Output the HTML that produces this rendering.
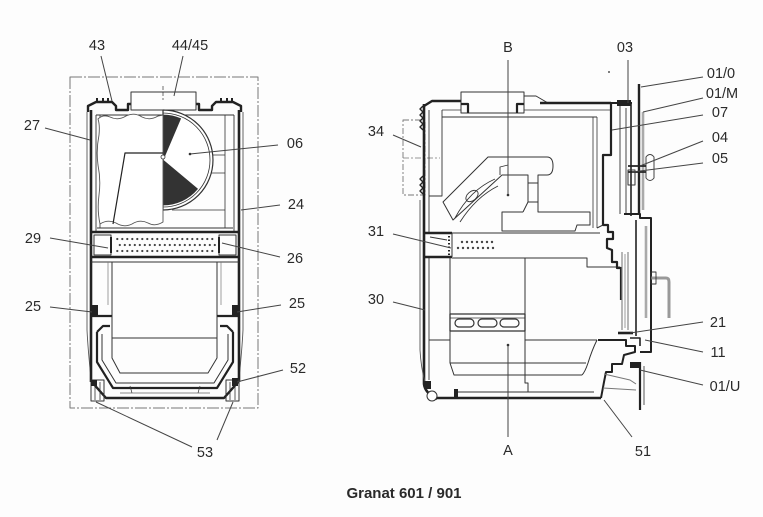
<!DOCTYPE html>
<html><head><meta charset="utf-8"><style>
html,body{margin:0;padding:0;background:#fdfdfd;}
svg{display:block;}
text{font-family:"Liberation Sans",Arial,sans-serif;font-size:14.5px;fill:#2a2a2a;}
.t{font-weight:bold;font-size:15px;fill:#2a2a2a;}
</style></head><body>
<svg width="763" height="517" viewBox="0 0 763 517" xmlns="http://www.w3.org/2000/svg">
<defs>
<pattern id="dl" x="116" y="237" width="5" height="12" patternUnits="userSpaceOnUse">
<circle cx="1.3" cy="2" r="1.1" fill="#444"/><circle cx="3.8" cy="8" r="1.1" fill="#444"/>
</pattern>
</defs>
<rect width="763" height="517" fill="#fdfdfd"/>

<!-- ================= LEFT VIEW ================= -->
<g fill="none" stroke="#333" stroke-linejoin="round">
<rect x="70" y="77" width="188" height="331" stroke="#777" stroke-width="1" stroke-dasharray="12,2,2,2"/>
<path d="M87,112 L87,330 Q88,350 91,378" stroke-width="0.9" stroke="#555"/>
<path d="M243,112 L243,330 Q242,350 239,378" stroke-width="0.9" stroke="#555"/>
<path d="M91,110 L91,382" stroke-width="2.6" stroke="#222"/>
<path d="M239,110 L239,382" stroke-width="2.6" stroke="#222"/>
<path d="M96,115 L96,232" stroke-width="0.9"/>
<path d="M234,115 L234,232" stroke-width="0.9"/>
<path d="M88,112 L88,106 L96,102 L112,102 L116,106 L116,110 L128,110 L128,104 L131,104" stroke-width="2.4" stroke="#222"/>
<path d="M196,104 L199,104 L199,110 L212,110 L212,106 L216,102 L233,102 L241,106 L241,112" stroke-width="2.4" stroke="#222"/>
<path d="M97,98 l0,5 M103,98 l0,5 M108,98 l0,5 M221,98 l0,5 M227,98 l0,5 M232,98 l0,5" stroke-width="2" stroke="#222"/>
<rect x="131" y="92" width="65" height="18" stroke-width="1"/>
<path d="M163,86 L163,100" stroke-width="0.7" stroke-dasharray="4,2"/>
<path d="M96,115 L234,115" stroke-width="1"/>
<path d="M100,115 L100,228 M225,115 L225,228" stroke-width="0.8"/>
<path d="M213,155 L225,155 M204,173 L225,173 M172,210 L225,210" stroke-width="0.8"/>
<path d="M97,228 L233,228" stroke-width="1"/>
<path d="M163,110 A50,50 0 0 1 163,210 Z" fill="#fff" stroke-width="1.2"/>
<path d="M163,113 A47,47 0 0 1 163,207" stroke-width="0.8"/>
<path d="M163,160 L163,115 A45,45 0 0 1 180.6,118.6 Z" fill="#333" stroke="#333" stroke-width="0.8"/>
<path d="M163,160 L197.5,188.9 A45,45 0 0 1 163,205 Z" fill="#333" stroke="#333" stroke-width="0.8"/>
<path d="M98,119 Q103,114 110,117 Q118,121 126,116 Q134,112 142,117 Q150,121 158,116 L163,115 L163,222 Q155,227 148,223 Q140,219 132,224 Q124,228 116,223 Q108,219 100,224 Q97,210 99,195 Q101,180 98,165 Q96,150 99,135 Q100,125 98,119 Z" fill="#fff" stroke="#555" stroke-width="0.9"/>
<path d="M163,153 L125,153 L113,224" stroke-width="1.2" stroke="#222"/>
<circle cx="163" cy="157" r="2" fill="#fff" stroke-width="0.8"/>
<path d="M91,232 L239,232" stroke-width="2.4" stroke="#222"/>
<path d="M91,257 L239,257" stroke-width="2.4" stroke="#222"/>
<rect x="94" y="235" width="17" height="20" stroke-width="1"/>
<rect x="219" y="235" width="17" height="20" stroke-width="1"/>
<path d="M111,237 L111,253 M219,237 L219,253" stroke-width="2" stroke="#222"/>
<rect x="116" y="237" width="100" height="17" fill="url(#dl)" stroke="none"/>
<path d="M91,262 L239,262" stroke-width="1"/>
<path d="M112,262 L112,316 M217,262 L217,316" stroke-width="1"/>
<path d="M108,262 L108,305 M221,262 L221,305" stroke-width="0.7" stroke="#777"/>
<path d="M91,316 L112,316 M217,316 L239,316" stroke-width="2.2" stroke="#222"/>
<rect x="92" y="305" width="6" height="11" fill="#222" stroke="none"/>
<rect x="232" y="305" width="6" height="11" fill="#222" stroke="none"/>
<path d="M97,332 L97,362 L113,388 L217,388 L233,362 L233,332 M97,332 L103,326 L110,326 M233,332 L227,326 L220,326" stroke-width="2.2" stroke="#222"/>
<path d="M102,334 L102,360 L116,383 L214,383 L228,360 L228,334" stroke-width="1"/>
<path d="M112,316 L112,358 L120,373 L208,373 L217,358 L217,316" stroke-width="1"/>
<path d="M112,338 L217,338" stroke-width="1"/>
<path d="M91,381 L106,398 L224,398 L239,381" stroke-width="2.4" stroke="#222"/>
<path d="M120,393 L210,393" stroke-width="0.8" stroke="#666"/>
<path d="M130,386 l2,7 M200,386 l-2,7" stroke-width="0.7"/>
<rect x="91" y="380" width="13" height="21" stroke-width="1"/>
<path d="M95,382 L95,400 M100,382 L100,400" stroke-width="0.8"/>
<rect x="91" y="380" width="6" height="6" fill="#222" stroke="none"/>
<rect x="226" y="380" width="13" height="21" stroke-width="1"/>
<path d="M230,382 L230,400 M235,382 L235,400" stroke-width="0.8"/>
<rect x="232" y="378" width="6" height="8" fill="#222" stroke="none"/>
</g>

<g stroke="#444" stroke-width="1" fill="none">
<path d="M101,56 L112,101"/>
<path d="M183,56 L174,96"/>
<path d="M45,128 L90,140"/>
<path d="M278,145 L190,154"/>
<path d="M280,205 L241,210"/>
<path d="M50,238 L108,248"/>
<path d="M280,257 L222,243"/>
<path d="M50,307 L92,312"/>
<path d="M281,305 L237,312"/>
<path d="M283,370 L237,382"/>
<path d="M192,447 L96,402"/>
<path d="M217,440 L233,402"/>
</g>
<circle cx="190" cy="154" r="1.3" fill="#333"/>
<g text-anchor="middle">
<text x="97" y="50">43</text>
<text x="190" y="50">44/45</text>
<text x="32" y="130">27</text>
<text x="295" y="148">06</text>
<text x="296" y="209">24</text>
<text x="33" y="243">29</text>
<text x="295" y="263">26</text>
<text x="33" y="311">25</text>
<text x="297" y="308">25</text>
<text x="298" y="373">52</text>
<text x="205" y="457">53</text>
</g>

<!-- ================= RIGHT VIEW ================= -->
<g fill="none" stroke="#333" stroke-linejoin="round">
<rect x="403" y="120" width="22" height="75" stroke="#777" stroke-width="0.9" stroke-dasharray="6,2,2,2"/>
<path d="M403,158 L440,158" stroke="#777" stroke-width="0.8" stroke-dasharray="6,2,2,2"/>
<path d="M424,104 L424,384 Q425,393 437,399" stroke-width="2.6" stroke="#222"/>
<path d="M423,106 l-3,3 l3,3 l-3,3 l3,3 l-3,3 l3,3 l-3,3 l3,3 M423,176 l-3,3 l3,3 l-3,3 l3,3 l-3,3 l3,3" stroke-width="1.4" stroke="#222"/>
<path d="M420,200 L420,350 Q421,368 425,382" stroke-width="0.9" stroke="#555"/>
<path d="M429,110 L429,232 M429,258 L429,380" stroke-width="0.9"/>
<path d="M442,110 L442,196 L429,196" stroke-width="0.9"/>
<path d="M424,106 L432,101 L461,101" stroke-width="2.4" stroke="#222"/>
<rect x="461" y="92" width="63" height="21" stroke-width="1"/>
<path d="M461,104 L468,104 L468,113 M524,104 L517,104 L517,113" stroke-width="2.2" stroke="#222"/>
<path d="M524,96 L536,96 L548,103" stroke-width="1"/>
<path d="M540,103 L611,103" stroke-width="2.6" stroke="#222"/>
<path d="M442,110 L461,110 M524,110 L611,110" stroke-width="0.8"/>
<path d="M442,117 L597,117" stroke-width="1"/>
<path d="M597,117 L597,228 M593,117 L593,228" stroke-width="0.8"/>
<path d="M443,202 L488,157 L547,157 Q553,157 553,166 Q553,175 547,175 L538,175 L538,183 L528,183 L528,175 L502,175 L453,220 Z" stroke-width="1"/>
<path d="M500,175 L500,167 L508,165 L508,157" stroke-width="0.9"/>
<path d="M528,183 L528,202 M538,183 L538,202" stroke-width="1"/>
<path d="M523,212 L528,202 L538,202 L538,212 L590,212 L590,225 L577,225 L575,231 L502,231 L502,212 L523,212" stroke-width="1"/>
<path d="M455,218 Q470,190 495,179 M460,222 Q476,197 498,186" stroke-width="0.9"/>
<ellipse cx="472" cy="196" rx="7" ry="4.5" transform="rotate(-40 472 196)" stroke-width="0.9"/>
<path d="M425,233 L600,233" stroke-width="1"/>
<path d="M425,233 L452,233 M425,257 L452,257" stroke-width="2.4" stroke="#222"/>
<path d="M452,233 L452,257 M430,237 L447,240" stroke-width="1"/>
<path d="M449,236 L449,256" stroke-width="2" stroke="#222" stroke-dasharray="1.5,2"/>
<path d="M452,258 L587,258 L587,267 L620,267" stroke-width="1"/>
<path d="M611,103 L611,155 L603,155 L603,225 L608,225 L608,232 L613,232 L613,239 L607,239 L607,248 L612,250 L612,262 L617,262 L617,268 L621,268 L621,300" stroke-width="2.2" stroke="#222"/>
<path d="M603,225 L597,228" stroke-width="1"/>
<path d="M611,103 L632,103" stroke-width="2" stroke="#222"/>
<path d="M620,105 L620,214 M626,108 L626,214" stroke-width="1.2" stroke="#666"/>
<path d="M631,104 L631,216" stroke-width="1.6" stroke="#222"/>
<rect x="617" y="100" width="14" height="6" fill="#222" stroke="none"/>
<path d="M639,84 L639,214" stroke-width="2.4" stroke="#222"/>
<path d="M643,112 L643,210" stroke-width="2.6" stroke="#aaa"/>
<path d="M646,160 L646,157 Q650,152 654,157 L654,178 Q650,183 646,178 Z" stroke-width="1" stroke="#444"/>
<path d="M628,166 L646,166 M628,172 L646,172" stroke-width="1.8" stroke="#222"/>
<rect x="628" y="170" width="7" height="15" stroke-width="1"/>
<path d="M624,214 L640,214 L640,218 L651,218 L651,352 L640,352" stroke-width="2" stroke="#222"/>
<path d="M636,220 L636,336" stroke-width="1.6" stroke="#222"/>
<path d="M646,226 L646,318" stroke-width="2.6" stroke="#aaa"/>
<path d="M622,252 L622,330 M628,252 L628,330" stroke-width="1.2" stroke="#888"/>
<path d="M625,254 L625,328" stroke-width="2" stroke="#ccc"/>
<path d="M651,278 L666,278 Q669,278 669,282 L669,318" stroke-width="3" stroke="#999"/>
<rect x="651" y="272" width="5" height="12" stroke-width="0.9"/>
<path d="M618,333 L633,333" stroke-width="2.6" stroke="#222"/>
<path d="M598,340 L626,340 L626,346 L635,346 L635,352 L624,355 L622,364 L612,364 L612,372 L606,372 L604,382 L601,398" stroke-width="2" stroke="#222"/>
<path d="M630,338 L640,338 L640,346" stroke-width="1.6" stroke="#222"/>
<path d="M640,362 L640,410" stroke-width="2.2" stroke="#222"/>
<path d="M644,366 L644,405" stroke-width="2" stroke="#aaa"/>
<rect x="630" y="362" width="10" height="6" fill="#222" stroke="none"/>
<path d="M604,374 L630,380 L636,384 M603,388 L636,390" stroke-width="1" stroke="#777"/>
<path d="M450,258 L450,363 M525,258 L525,383 L528,383 L528,392" stroke-width="1"/>
<path d="M429,340 L450,340 M525,340 L597,340" stroke-width="1"/>
<rect x="450" y="314" width="75" height="17" stroke-width="1.3"/>
<path d="M450,318 L525,318" stroke-width="0.7"/>
<rect x="455" y="319" width="19" height="8" rx="4" stroke-width="1.2"/>
<rect x="478" y="319" width="19" height="8" rx="4" stroke-width="1.2"/>
<rect x="500" y="319" width="19" height="8" rx="4" stroke-width="1.2"/>
<path d="M450,363 L586,363 M450,363 L454,375 L582,375" stroke-width="1"/>
<path d="M597,340 Q592,350 588,363 Q585,372 582,375" stroke-width="1"/>
<path d="M437,398 L601,398" stroke-width="2.6" stroke="#222"/>
<path d="M456,392 L594,392" stroke-width="1"/>
<rect x="454" y="389" width="4" height="9" fill="#222" stroke="none"/>
<path d="M508,392 L508,398" stroke-width="0.8"/>
<circle cx="432" cy="396" r="5" fill="#fff" stroke-width="1"/>
<rect x="424" y="381" width="7" height="8" fill="#222" stroke="none"/>
</g>

<g fill="#444">
<circle cx="462" cy="242" r="1.2"/><circle cx="467" cy="242" r="1.2"/><circle cx="472" cy="242" r="1.2"/><circle cx="477" cy="242" r="1.2"/><circle cx="482" cy="242" r="1.2"/><circle cx="487" cy="242" r="1.2"/><circle cx="492" cy="242" r="1.2"/>
<circle cx="458" cy="248" r="1.2"/><circle cx="463" cy="248" r="1.2"/><circle cx="468" cy="248" r="1.2"/><circle cx="473" cy="248" r="1.2"/><circle cx="478" cy="248" r="1.2"/><circle cx="483" cy="248" r="1.2"/><circle cx="488" cy="248" r="1.2"/><circle cx="493" cy="248" r="1.2"/>
</g>

<g stroke="#444" stroke-width="1" fill="none">
<path d="M508,60 L508,195"/>
<path d="M628,60 L628,103"/>
<path d="M703,77 L641,87"/>
<path d="M703,98 L643,112"/>
<path d="M703,115 L612,130"/>
<path d="M703,141 L640,166"/>
<path d="M703,163 L632,172"/>
<path d="M393,135 L421,147"/>
<path d="M393,234 L451,248"/>
<path d="M393,302 L425,310"/>
<path d="M703,322 L630,333"/>
<path d="M703,352 L645,340"/>
<path d="M703,385 L640,370"/>
<path d="M508,437 L508,345"/>
<path d="M632,437 L604,400"/>
</g>
<circle cx="508" cy="195" r="1.3" fill="#333"/>
<circle cx="508" cy="345" r="1.3" fill="#333"/>
<circle cx="609" cy="72" r="1" fill="#555"/>
<g text-anchor="middle">
<text x="508" y="52">B</text>
<text x="625" y="52">03</text>
<text x="721" y="78">01/0</text>
<text x="722" y="98">01/M</text>
<text x="720" y="117">07</text>
<text x="720" y="142">04</text>
<text x="720" y="163">05</text>
<text x="376" y="136">34</text>
<text x="376" y="236">31</text>
<text x="376" y="304">30</text>
<text x="718" y="327">21</text>
<text x="718" y="357">11</text>
<text x="725" y="391">01/U</text>
<text x="508" y="455">A</text>
<text x="643" y="456">51</text>
</g>

<text class="t" x="404" y="498" text-anchor="middle">Granat 601 / 901</text>
</svg>
</body></html>
